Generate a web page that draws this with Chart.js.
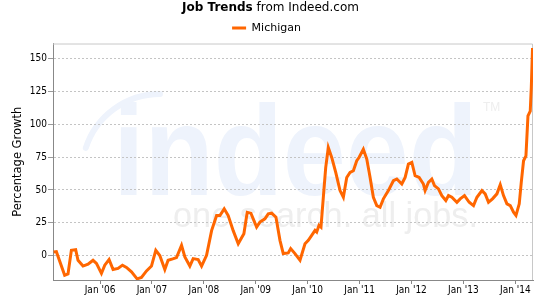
<!DOCTYPE html>
<html>
<head>
<meta charset="utf-8">
<script src="https://cdn.jsdelivr.net/npm/chart.js@4/dist/chart.umd.min.js"></script>
<style>
  html, body { margin: 0; padding: 0; background: #fff; overflow: hidden; }
  #trendChart { display: block; }
</style>
</head>
<body>
<canvas id="trendChart" width="540" height="300"></canvas>
<script>
// dates as decimal years
const dates = [
    2005.107, 2005.159, 2005.319, 2005.383, 2005.448, 2005.531, 2005.576, 2005.672,
    2005.769, 2005.865, 2005.931, 2006.027, 2006.091, 2006.174, 2006.251, 2006.347,
    2006.432, 2006.509, 2006.606, 2006.714, 2006.798, 2006.895, 2006.991, 2007.074,
    2007.151, 2007.248, 2007.311, 2007.400, 2007.473, 2007.570, 2007.634, 2007.730,
    2007.794, 2007.890, 2007.956, 2008.052, 2008.149, 2008.245, 2008.309, 2008.392,
    2008.469, 2008.565, 2008.662, 2008.727, 2008.771, 2008.835, 2008.906, 2009.016,
    2009.080, 2009.176, 2009.240, 2009.306, 2009.389, 2009.466, 2009.529, 2009.626,
    2009.672, 2009.755, 2009.852, 2009.948, 2010.012, 2010.077, 2010.141, 2010.174,
    2010.218, 2010.256, 2010.301, 2010.347, 2010.397, 2010.463, 2010.540, 2010.623,
    2010.687, 2010.752, 2010.816, 2010.880, 2010.945, 2010.989, 2011.072, 2011.138,
    2011.202, 2011.265, 2011.331, 2011.394, 2011.458, 2011.554, 2011.651, 2011.717,
    2011.813, 2011.877, 2011.940, 2012.006, 2012.069, 2012.147, 2012.229, 2012.262,
    2012.326, 2012.391, 2012.442, 2012.519, 2012.584, 2012.661, 2012.712, 2012.777,
    2012.874, 2012.937, 2013.020, 2013.111, 2013.194, 2013.260, 2013.356, 2013.419,
    2013.483, 2013.560, 2013.645, 2013.709, 2013.772, 2013.838, 2013.902, 2013.965,
    2014.012, 2014.075, 2014.114, 2014.158, 2014.204, 2014.243, 2014.287, 2014.307,
    2014.331,
];
const michigan = [
    2.7, 3, -15, -14, 4, 4.5, -3.6, -8,
    -6.6, -3.6, -6, -13.6, -7.3, -3, -10.6, -9.8,
    -7.3, -9, -12.4, -17.7, -16.7, -11.7, -8, 4,
    0, -10.6, -3.6, -2.5, -1.5, 7.8, -1, -8,
    -2.3, -3, -8, 0.2, 19, 30.5, 30.5, 35.6,
    30.5, 19, 9, 13.6, 16.7, 33, 32.3, 21.7,
    25.5, 28, 31.8, 32.3, 29.2, 11.6, 1.5, 2,
    5.3, 1.5, -3.6, 9, 11.6, 15.4, 19.2, 17.9,
    23, 21.7, 44.4, 67, 82.3, 74.7, 63.3, 49.5,
    44.4, 59.5, 63.3, 64.6, 72.2, 74.7, 81, 73.5,
    59.5, 44.4, 38, 36.8, 43.2, 49.5, 57, 58.3,
    54.5, 59.5, 69.7, 71, 60.8, 59.5, 54.5, 49.5,
    55.8, 58.3, 53.3, 50.8, 45.7, 41.9, 45.7, 44.4,
    40.6, 43.2, 45.7, 40.6, 38, 44.4, 49.5, 47,
    40.6, 43.2, 47, 54, 45.7, 39.4, 38, 33,
    30.5, 39.4, 55.8, 72.2, 76, 106.3, 110, 127.7,
    158,
];
const yTicks = [0, 25, 50, 75, 100, 125, 150];
const xTickYears = [2006, 2007, 2008, 2009, 2010, 2011, 2012, 2013, 2014];

const FONT = '"DejaVu Sans", Verdana, sans-serif';
const TICKFONT = '"DejaVu Sans Condensed", "Liberation Sans", Arial, sans-serif';

// indeed logo + mixed weight title + top/right frame
const decorPlugin = {
    id: "decor",
    beforeDraw(chart) {
        const ctx = chart.ctx;
        ctx.save();
        // watermark "indeed"
        ctx.fillStyle = "#eef3fc";
        ctx.font = "bold 128px 'Liberation Sans', Arial, sans-serif";
        ctx.textBaseline = "alphabetic";
        let w = ctx.measureText("indeed").width;
        ctx.save();
        ctx.translate(113, 195);
        ctx.scale(365 / w, 1);
        ctx.fillText("indeed", 0, 0);
        ctx.restore();
        // swoosh over the i
        ctx.strokeStyle = "#eef3fc";
        ctx.lineWidth = 6;
        ctx.lineCap = "round";
        ctx.beginPath();
        ctx.arc(160, 172, 78, Math.PI * 1.1, Math.PI * 1.5);
        ctx.stroke();
        // tagline
        ctx.fillStyle = "#eeeeee";
        ctx.font = "35px 'Liberation Sans', Arial, sans-serif";
        w = ctx.measureText("one search. all jobs.").width;
        ctx.save();
        ctx.translate(173, 227);
        ctx.scale(305 / w, 1);
        ctx.fillText("one search. all jobs.", 0, 0);
        ctx.restore();
        ctx.font = "12px 'Liberation Sans', Arial, sans-serif";
        ctx.fillText("TM", 483, 111);
        ctx.restore();
    },
    beforeDatasetsDraw(chart) {
        const { ctx, chartArea: a } = chart;
        ctx.save();
        ctx.strokeStyle = "#c8c8c8";
        ctx.lineWidth = 1;
        ctx.beginPath();
        ctx.moveTo(a.left, a.top + 0.5);
        ctx.lineTo(a.right - 0.5, a.top + 0.5);
        ctx.lineTo(a.right - 0.5, a.bottom);
        ctx.stroke();
        ctx.restore();
    },
    afterDraw(chart) {
        const ctx = chart.ctx;
        ctx.save();
        ctx.fillStyle = "#000";
        ctx.textBaseline = "middle";
        const boldTxt = "Job Trends";
        const restTxt = " from Indeed.com";
        ctx.font = "bold 12px " + FONT;
        const bw = ctx.measureText(boldTxt).width;
        ctx.font = "12px " + FONT;
        const rw = ctx.measureText(restTxt).width;
        const x0 = 270.5 - (bw + rw) / 2;
        ctx.font = "bold 12px " + FONT;
        ctx.fillText(boldTxt, x0, 8);
        ctx.font = "12px " + FONT;
        ctx.fillText(restTxt, x0 + bw, 8);
        ctx.restore();
    },
};

document.addEventListener("DOMContentLoaded", function () {
    const ctx = document.getElementById("trendChart");
    if (!ctx) return;

    new Chart(ctx, {
        type: "line",
        data: {
            datasets: [
                {
                    label: "Michigan",
                    data: dates.map((d, i) => ({ x: d, y: michigan[i] })),
                    borderColor: "#ff6600",
                    backgroundColor: "#ff6600",
                    borderWidth: 3,
                    pointRadius: 0,
                    tension: 0,
                    fill: false,
                },
            ],
        },
        options: {
            responsive: false,
            animation: false,
            devicePixelRatio: 1,
            layout: {
                padding: { top: 13, right: 7, bottom: 4, left: 0 },
            },
            plugins: {
                legend: {
                    position: "top",
                    labels: {
                        boxWidth: 14,
                        boxHeight: 3,
                        padding: 9.5,
                        color: "#000",
                        font: { family: FONT, size: 11 },
                        generateLabels: function (chart) {
                            const items = Chart.defaults.plugins.legend.labels.generateLabels(chart);
                            items.forEach((it) => {
                                it.lineWidth = 0;
                                it.fillStyle = "#ff6600";
                            });
                            return items;
                        },
                    },
                },
                tooltip: { enabled: false },
                title: { display: false },
            },
            scales: {
                x: {
                    type: "linear",
                    min: 2005.094,
                    max: 2014.34,
                    afterBuildTicks: function (scale) {
                        scale.ticks = xTickYears.map((v) => ({ value: v }));
                    },
                    ticks: {
                        autoSkip: false,
                        maxRotation: 0,
                        padding: 0,
                        color: "#000",
                        font: { family: TICKFONT, size: 10 },
                        callback: function (v) {
                            return "Jan '" + String(v).slice(2, 4);
                        },
                    },
                    grid: {
                        drawOnChartArea: false,
                        tickLength: 4,
                        color: "#888",
                    },
                    border: { color: "#888", width: 1 },
                },
                y: {
                    min: -18.6,
                    max: 161.5,
                    afterBuildTicks: function (scale) {
                        scale.ticks = yTicks.map((v) => ({ value: v }));
                    },
                    afterFit: function (scale) {
                        scale.width = 53;
                    },
                    ticks: {
                        padding: 1,
                        color: "#000",
                        font: { family: TICKFONT, size: 10 },
                    },
                    grid: {
                        color: "#c4c4c4",
                        tickLength: 5,
                        tickColor: "#999",
                        tickBorderDash: [1, 0],
                    },
                    border: { color: "#888", width: 1, dash: [2, 2] },
                    title: {
                        display: true,
                        text: "Percentage Growth",
                        color: "#000",
                        font: { family: FONT, size: 11.5 },
                        padding: { top: 11, bottom: 0 },
                    },
                },
            },
        },
        plugins: [decorPlugin],
    });
});
</script>
</body>
</html>
